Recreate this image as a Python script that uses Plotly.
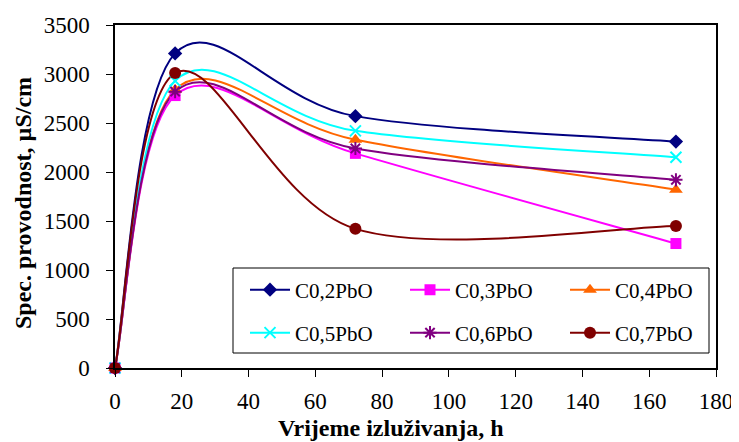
import plotly.graph_objects as go

hours = [0, 18, 72, 168]
c02 = [0, 3210, 2570, 2310]
c03 = [0, 2780, 2190, 1270]
c04 = [0, 2840, 2330, 1820]
c05 = [0, 2930, 2420, 2150]
c06 = [0, 2820, 2240, 1920]
c07 = [0, 3010, 1420, 1450]

names = ["C0,2PbO", "C0,3PbO", "C0,4PbO", "C0,5PbO", "C0,6PbO", "C0,7PbO"]
series = [c02, c03, c04, c05, c06, c07]
colors = ["#000080", "#FF00FF", "#FF6600", "#00FFFF", "#800080", "#800000"]
symbols = ["diamond", "square", "triangle-up", "x-thin", "asterisk", "circle"]
sizes = [11, 11, 12, 11, 11, 12]

x_title = "Vrijeme izluživanja, h"
y_title = "Spec. provodnost, µS/cm"

FONT = "Liberation Serif, Times New Roman, serif"

# page offset (default body margin) and target plot-area box on screen
OFF = 8
L, R, T, B = 115, 716, 25, 368
W, H = 739 - OFF, 442 - OFF


def px_x(X):
    return (X - L) / (R - L)


def px_y(Y):
    return (B - Y) / (B - T)


def smooth_path(xs, ys):
    """Excel-style smoothed line: Catmull-Rom (uniform) converted to cubic Bezier."""
    n = len(xs)
    pts = list(zip(xs, ys))
    d = f"M{pts[0][0]},{pts[0][1]}"
    for i in range(n - 1):
        p0 = pts[i - 1] if i > 0 else pts[i]
        p1 = pts[i]
        p2 = pts[i + 1]
        p3 = pts[i + 2] if i + 2 < n else pts[i + 1]
        c1 = (p1[0] + (p2[0] - p0[0]) / 6, p1[1] + (p2[1] - p0[1]) / 6)
        c2 = (p2[0] - (p3[0] - p1[0]) / 6, p2[1] - (p3[1] - p1[1]) / 6)
        d += f" C{c1[0]},{c1[1]} {c2[0]},{c2[1]} {p2[0]},{p2[1]}"
    return d


fig = go.Figure()
shapes = []
for i, (n, ys) in enumerate(zip(names, series)):
    sym = symbols[i]
    open_sym = sym in ("x-thin", "asterisk")
    mk = dict(symbol=sym, size=sizes[i], color=colors[i],
              line=dict(color=colors[i], width=2 if open_sym else 0))
    shapes.append(dict(type="path", xref="x", yref="y", path=smooth_path(hours, ys),
                       line=dict(color=colors[i], width=2), layer="below"))
    fig.add_trace(go.Scatter(x=hours, y=ys, name=n, mode="markers", marker=mk,
                             cliponaxis=False, showlegend=False))
    fig.add_trace(go.Scatter(x=[None], y=[None], name=n, mode="lines+markers",
                             line=dict(color=colors[i], width=2), marker=mk,
                             legend="legend" if i < 3 else "legend2"))

axis_common = dict(showline=True, linecolor="black", linewidth=1.5, mirror=True,
                   ticks="outside", ticklen=7, tickcolor="black", showgrid=False,
                   zeroline=False, automargin=False,
                   tickfont=dict(family=FONT, size=23, color="black"))

fig.update_xaxes(range=[0, 180], dtick=20, ticklabelstandoff=5, **axis_common)
fig.update_yaxes(range=[0, 3500], dtick=500, ticklabelstandoff=12, **axis_common)

leg_common = dict(orientation="h", xanchor="left", yanchor="middle",
                  font=dict(family=FONT, size=21, color="black"),
                  bgcolor="rgba(0,0,0,0)", entrywidth=105, itemwidth=40)

shapes.append(dict(type="rect", xref="paper", yref="paper",
                   x0=px_x(233), x1=px_x(709), y0=px_y(353), y1=px_y(268),
                   line=dict(color="black", width=1), fillcolor="white", layer="below"))

fig.update_layout(
    width=W, height=H,
    margin=dict(l=L - OFF, r=W - (R - OFF), t=T - OFF, b=H - (B - OFF)),
    paper_bgcolor="white", plot_bgcolor="white",
    legend=dict(x=px_x(245), y=px_y(290), **leg_common),
    legend2=dict(x=px_x(245), y=px_y(333), **leg_common),
    shapes=shapes,
    showlegend=True,
    annotations=[
        dict(text=f"<b>{x_title}</b>", xref="paper", yref="paper",
             x=px_x(391), y=px_y(428), xanchor="center", yanchor="middle",
             showarrow=False, font=dict(family=FONT, size=24, color="black")),
        dict(text=f"<b>{y_title}</b>", xref="paper", yref="paper", textangle=-90,
             x=px_x(23), y=px_y(203), xanchor="center", yanchor="middle",
             showarrow=False, font=dict(family=FONT, size=24, color="black")),
    ],
)

fig.write_html("out.html")
